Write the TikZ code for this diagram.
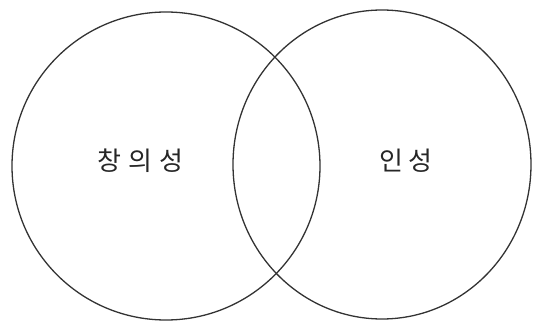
\documentclass[tikz,border=0pt]{standalone}
\usepackage{fontspec}
\newfontfamily\kor{Noto Sans CJK KR}
\begin{document}
\begin{tikzpicture}[x=1pt,y=-1pt,
  setcircle/.style={draw=black!80,line width=1.3pt},
  lbl/.style={font=\kor\fontsize{26}{30}\selectfont,text=black!85,inner sep=0pt}]
\useasboundingbox (0,0) rectangle (536,323);
\draw[setcircle] (166,166) ellipse [x radius=154, y radius=154];
\draw[setcircle] (382,164.5) ellipse [x radius=149, y radius=154.5];
\node[lbl] (a) at (140.5,161) {창\hspace{7pt}의\hspace{7pt}성};
\node[lbl] (b) at (406,161) {인\hspace{5pt}성};
\end{tikzpicture}
\end{document}
